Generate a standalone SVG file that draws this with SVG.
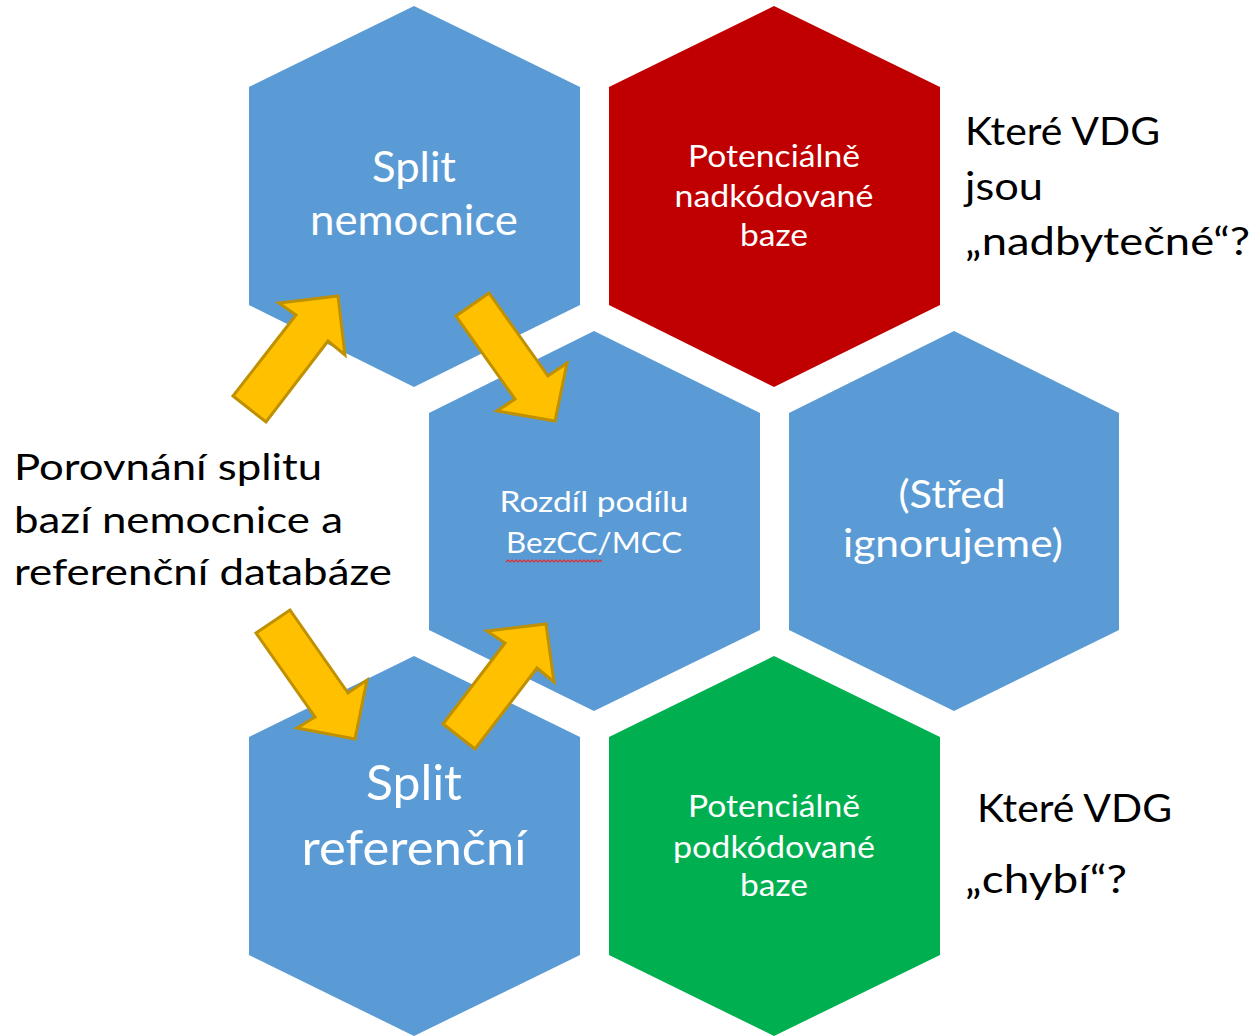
<svg xmlns="http://www.w3.org/2000/svg" width="1256" height="1036" viewBox="0 0 1256 1036">
<style>
.blue{fill:#5B9BD5}
.red{fill:#C00000}
.green{fill:#00B050}
.arrow{fill:#FFC000;stroke:#BF9000;stroke-width:3;stroke-linejoin:miter}
text{font-family:Lato,"Noto Sans","Liberation Sans",sans-serif}
.w{fill:#ffffff;text-anchor:middle}
.k{fill:#000000}
</style>
<rect width="1256" height="1036" fill="#ffffff"/>
<g id="node-split-nemocnice">
<polygon class="blue" points="414,6 580,87 580,305 414,387 249,305 249,87"/>
<text class="w" font-size="42"><tspan x="414" y="182" textLength="84" lengthAdjust="spacingAndGlyphs">Split</tspan><tspan x="414" y="235" textLength="208" lengthAdjust="spacingAndGlyphs">nemocnice</tspan></text>
</g>
<g id="node-nadkodovane">
<polygon class="red" points="774,6 940,87 940,305 774,387 609,305 609,87"/>
<text class="w" font-size="30"><tspan x="774" y="167" textLength="172" lengthAdjust="spacingAndGlyphs">Potenciálně</tspan><tspan x="774" y="207" textLength="199" lengthAdjust="spacingAndGlyphs">nadkódované</tspan><tspan x="774" y="246" textLength="68" lengthAdjust="spacingAndGlyphs">baze</tspan></text>
</g>
<g id="node-rozdil">
<polygon class="blue" points="594,331 760,413 760,630 594,711 429,630 429,413"/>
<text class="w" font-size="29"><tspan x="594" y="512" textLength="189" lengthAdjust="spacingAndGlyphs">Rozdíl podílu</tspan><tspan x="594" y="553" textLength="176" lengthAdjust="spacingAndGlyphs">BezCC/MCC</tspan></text>
<path d="M506,562 l2,-2 l2,2 l2,-2 l2,2 l2,-2 l2,2 l2,-2 l2,2 l2,-2 l2,2 l2,-2 l2,2 l2,-2 l2,2 l2,-2 l2,2 l2,-2 l2,2 l2,-2 l2,2 l2,-2 l2,2 l2,-2 l2,2 l2,-2 l2,2 l2,-2 l2,2 l2,-2 l2,2 l2,-2 l2,2 l2,-2 l2,2 l2,-2 l2,2 l2,-2 l2,2 l2,-2 l2,2 l2,-2 l2,2 l2,-2 l2,2 l2,-2 l2,2 l2,-2 l2,2" fill="none" stroke="#E03030" stroke-width="1.2"/>
</g>
<g id="node-stred">
<polygon class="blue" points="954,331 1119,413 1119,630 954,711 789,630 789,413"/>
<text class="w" font-size="38"><tspan x="952" y="508" textLength="107" lengthAdjust="spacingAndGlyphs">(Střed</tspan><tspan x="953" y="557" textLength="220" lengthAdjust="spacingAndGlyphs">ignorujeme)</tspan></text>
</g>
<g id="node-split-referencni">
<polygon class="blue" points="414,656 580,737 580,955 414,1036 249,955 249,737"/>
<text class="w" font-size="48"><tspan x="414" y="800" textLength="96" lengthAdjust="spacingAndGlyphs">Split</tspan><tspan x="414" y="865" textLength="225" lengthAdjust="spacingAndGlyphs">referenční</tspan></text>
</g>
<g id="node-podkodovane">
<polygon class="green" points="774,656 940,737 940,955 774,1036 609,955 609,737"/>
<text class="w" font-size="30"><tspan x="774" y="817" textLength="172" lengthAdjust="spacingAndGlyphs">Potenciálně</tspan><tspan x="774" y="858" textLength="202" lengthAdjust="spacingAndGlyphs">podkódované</tspan><tspan x="774" y="896" textLength="68" lengthAdjust="spacingAndGlyphs">baze</tspan></text>
</g>
<g id="label-porovnani">
<text class="k" font-size="37"><tspan x="14" y="480" textLength="308" lengthAdjust="spacingAndGlyphs">Porovnání splitu</tspan><tspan x="14" y="533" textLength="329" lengthAdjust="spacingAndGlyphs">bazí nemocnice a</tspan><tspan x="14" y="585" textLength="378" lengthAdjust="spacingAndGlyphs">referenční databáze</tspan></text>
</g>
<g id="label-nadbytecne">
<text class="k" font-size="38"><tspan x="965" y="145" textLength="195" lengthAdjust="spacingAndGlyphs">Které VDG</tspan><tspan x="965" y="200" textLength="78" lengthAdjust="spacingAndGlyphs">jsou</tspan><tspan x="965" y="255" textLength="285" lengthAdjust="spacingAndGlyphs">„nadbytečné“?</tspan></text>
</g>
<g id="label-chybi">
<text class="k" font-size="38"><tspan x="977" y="822" textLength="195" lengthAdjust="spacingAndGlyphs">Které VDG</tspan><tspan x="965" y="893" textLength="162" lengthAdjust="spacingAndGlyphs">„chybí“?</tspan></text>
</g>
<g id="connectors">
<polygon class="arrow" points="233,396 266,422 328,341 345,355 338,296 279,303 296,315"/>
<polygon class="arrow" points="456,316 489,293 548,376 567,363 555,421 497,411 515,399"/>
<polygon class="arrow" points="256,633 290,610 348,693 367,680 355,739 297,728 315,717"/>
<polygon class="arrow" points="443,724 475,749 537,668 554,682 546,624 487,631 505,643"/>
</g>
</svg>
